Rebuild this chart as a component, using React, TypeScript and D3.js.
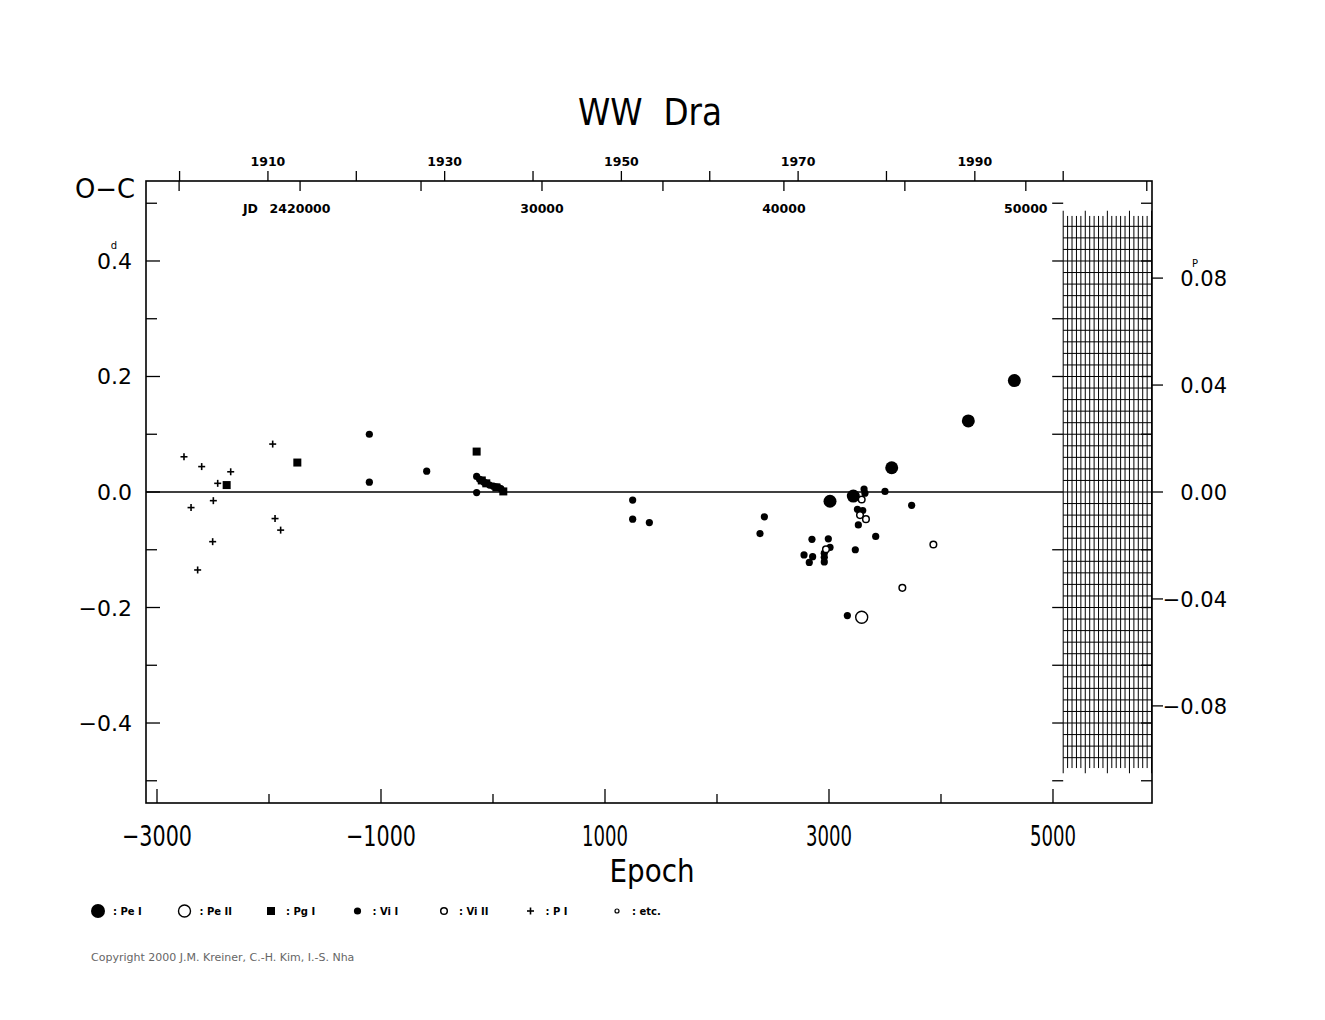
import React from 'react';
import * as d3 from 'd3';

// ---------- data ----------
const PERIOD = 4.6296; // days
const T0 = 2427975; // JD of epoch 0

// [epoch, O-C (days)]
const peI: [number, number][] = [
  [3009, -0.016], [3217, -0.007], [3560, 0.042], [4244, 0.123], [4655, 0.193],
];
const peII: [number, number][] = [[3292, -0.217]];
const pgI: [number, number][] = [
  [-2378, 0.012], [-1747, 0.051], [-146, 0.070], [-100, 0.020], [-60, 0.015], [30, 0.008], [92, 0.001],
];
const viI: [number, number][] = [
  [-1104, 0.100], [-1104, 0.017], [-592, 0.036],
  [-146, 0.027], [-146, -0.001], [-120, 0.022], [-101, 0.020], [-80, 0.017], [-56, 0.015],
  [-30, 0.012], [3, 0.010], [25, 0.009], [47, 0.008], [70, 0.006],
  [1247, -0.014], [1247, -0.047], [1396, -0.053], [2423, -0.043], [2384, -0.072],
  [3313, 0.005], [3321, -0.002], [3500, 0.001], [3738, -0.023], [3254, -0.030], [3301, -0.032],
  [3262, -0.057], [3417, -0.077], [2848, -0.082], [2994, -0.081], [3009, -0.096], [3235, -0.100],
  [2777, -0.109], [2854, -0.112], [2824, -0.122], [2958, -0.106], [2958, -0.113], [2958, -0.121],
  [3164, -0.214],
];
const viII: [number, number][] = [
  [3292, -0.013], [3277, -0.040], [3330, -0.047], [2973, -0.099], [3932, -0.091], [3655, -0.166],
];
const pI: [number, number][] = [
  [-2759, 0.061], [-2601, 0.044], [-2342, 0.035], [-2458, 0.015], [-2696, -0.027], [-2497, -0.015],
  [-2503, -0.086], [-2637, -0.135], [-1967, 0.083], [-1946, -0.046], [-1896, -0.066],
];

const dayMajorTicks = [-0.4, -0.2, 0, 0.2, 0.4];
const dayMinorTicks = [-0.5, -0.3, -0.1, 0.1, 0.3, 0.5];
const dayAllTicks = [-0.5, -0.4, -0.3, -0.2, -0.1, 0.1, 0.2, 0.3, 0.4, 0.5];
const periodTicks = [-0.08, -0.04, 0, 0.04, 0.08];
const epochMajor = [-3000, -1000, 1000, 3000, 5000];
const epochMinor = [-2000, 0, 2000, 4000];
const yearTicks = [1900, 1910, 1920, 1930, 1940, 1950, 1960, 1970, 1980, 1990, 2000];
const yearLabels = [1910, 1930, 1950, 1970, 1990];
const jdTicks = [15000, 20000, 25000, 30000, 35000, 40000, 45000, 50000, 55000];
const jdLabels = [20000, 30000, 40000, 50000];

const legendItems = [
  { kind: 'peI', label: ': Pe I' },
  { kind: 'peII', label: ': Pe II' },
  { kind: 'pgI', label: ': Pg I' },
  { kind: 'viI', label: ': Vi I' },
  { kind: 'viII', label: ': Vi II' },
  { kind: 'pI', label: ': P I' },
  { kind: 'etc', label: ': etc.' },
];

// ---------- helpers ----------
const yearToEpoch = (yr: number) => (2451544.5 + (yr - 2000) * 365.25 - T0) / PERIOD;
const jdToEpoch = (jd: number) => (2400000 + jd - T0) / PERIOD;

const FONT = "'DejaVu Sans', sans-serif";

function Marker({ kind, x, y, big }: { kind: string; x: number; y: number; big?: boolean }) {
  switch (kind) {
    case 'peI':
      return <circle cx={x} cy={y} r={big ? 7 : 6.5} fill="#000" />;
    case 'peII':
      return <circle cx={x} cy={y} r={6} fill="#fff" stroke="#000" strokeWidth={1.4} />;
    case 'pgI':
      return <rect x={x - 4} y={y - 4} width={8} height={8} fill="#000" />;
    case 'viI':
      return <circle cx={x} cy={y} r={3.6} fill="#000" />;
    case 'viII':
      return <circle cx={x} cy={y} r={3.3} fill="#fff" stroke="#000" strokeWidth={1.5} />;
    case 'pI':
      return (
        <g stroke="#000" strokeWidth={1.6}>
          <line x1={x - 3.5} x2={x + 3.5} y1={y} y2={y} />
          <line x1={x} x2={x} y1={y - 3.5} y2={y + 3.5} />
        </g>
      );
    default:
      return <circle cx={x} cy={y} r={2} fill="#fff" stroke="#000" strokeWidth={1.2} />;
  }
}

export default function App() {
  const left = 146, right = 1152, top = 181, bottom = 803;
  const x = d3.scaleLinear().domain([-3098.2, 5884]).range([left, right]);
  const y = d3.scaleLinear().domain([-0.5385, 0.5385]).range([bottom, top]);
  const yP = (p: number) => y(p * PERIOD);

  const hatchX0 = x(yearToEpoch(2000));
  const hatchCols = d3.range(0, 20.01, 1).map((i) => ({ x: x(yearToEpoch(2000 + i * 0.5)), tall: i % 5 === 0 }))
    .filter((c) => c.x <= right + 0.5);
  const hatchRows = d3.range(-23, 24).map((k) => k * 0.02);

  const series: { kind: string; pts: [number, number][] }[] = [
    { kind: 'pI', pts: pI },
    { kind: 'pgI', pts: pgI },
    { kind: 'viI', pts: viI },
    { kind: 'peI', pts: peI },
    { kind: 'viII', pts: viII },
    { kind: 'peII', pts: peII },
  ];

  const fmtDay = (v: number) => (v < 0 ? '\u2212' : '') + Math.abs(v).toFixed(1);
  const fmtP = (v: number) => (v < 0 ? '\u2212' : '') + Math.abs(v).toFixed(2);
  const fmtE = (v: number) => (v < 0 ? '\u2212' : '') + Math.abs(v).toString();

  return (
    <svg width={1325} height={1020} style={{ position: 'absolute', left: 0, top: 0, background: '#fff' }} fontFamily={FONT}>
      <rect x={0} y={0} width={1325} height={1020} fill="#fff" />
      {/* title */}
      <text x={650} y={125} fontSize={37} textAnchor="middle" textLength={144} lengthAdjust="spacingAndGlyphs" fill="#000">
        WW{'\u00a0\u00a0'}Dra
      </text>
      <text x={75} y={198} fontSize={27} textLength={60} lengthAdjust="spacingAndGlyphs" fill="#000">O{'\u2212'}C</text>

      {/* hatch region */}
      <g stroke="#000" strokeWidth={1}>
        {hatchCols.map((c, i) => (
          <line key={'hc' + i} x1={c.x} x2={c.x} y1={y(c.tall ? 0.487 : 0.478)} y2={y(c.tall ? -0.487 : -0.478)} />
        ))}
        {hatchRows.map((r, i) => (
          <line key={'hr' + i} x1={hatchX0} x2={right} y1={y(r)} y2={y(r)} />
        ))}
      </g>

      {/* zero line */}
      <line x1={left} x2={hatchX0} y1={y(0)} y2={y(0)} stroke="#000" strokeWidth={1.3} />

      {/* frame */}
      <rect x={left} y={top} width={right - left} height={bottom - top} fill="none" stroke="#000" strokeWidth={1.6} />

      {/* ticks */}
      <g stroke="#000" strokeWidth={1.3}>
        {dayMajorTicks.map((t) => (
          <line key={'lm' + t} x1={left} x2={left + 14} y1={y(t)} y2={y(t)} />
        ))}
        {dayMinorTicks.map((t) => (
          <line key={'ln' + t} x1={left} x2={left + 11} y1={y(t)} y2={y(t)} />
        ))}
        {dayAllTicks.map((t) => (
          <line key={'rh' + t} x1={hatchX0 - 11} x2={hatchX0} y1={y(t)} y2={y(t)} />
        ))}
        {dayAllTicks.map((t) => (
          <line key={'rf' + t} x1={right - 11} x2={right} y1={y(t)} y2={y(t)} />
        ))}
        {periodTicks.map((t) => (
          <line key={'pt' + t} x1={right} x2={right + 11} y1={yP(t)} y2={yP(t)} />
        ))}
        {epochMajor.map((t) => (
          <line key={'em' + t} x1={x(t)} x2={x(t)} y1={bottom} y2={bottom - 14} />
        ))}
        {epochMinor.map((t) => (
          <line key={'en' + t} x1={x(t)} x2={x(t)} y1={bottom} y2={bottom - 9} />
        ))}
        {yearTicks.map((t) => (
          <line key={'yt' + t} x1={x(yearToEpoch(t))} x2={x(yearToEpoch(t))} y1={top} y2={top - 10} />
        ))}
        {jdTicks.map((t) => (
          <line key={'jt' + t} x1={x(jdToEpoch(t))} x2={x(jdToEpoch(t))} y1={top} y2={top + 10} />
        ))}
      </g>

      {/* left labels */}
      {dayMajorTicks.map((t) => (
        <text key={'ll' + t} x={132} y={y(t) + 8} fontSize={22} textAnchor="end" fill="#000">{fmtDay(t)}</text>
      ))}
      <text x={114} y={y(0.4) - 12} fontSize={10} textAnchor="middle" fill="#000">d</text>

      {/* right labels */}
      {periodTicks.map((t) => (
        <text key={'rl' + t} x={1227} y={yP(t) + 8} fontSize={21} textAnchor="end" fill="#000">{fmtP(t)}</text>
      ))}
      <text x={1195} y={yP(0.08) - 11} fontSize={10} textAnchor="middle" fill="#000">P</text>

      {/* bottom labels */}
      {epochMajor.map((t) => {
        const s = fmtE(t);
        return (
          <text key={'bl' + t} x={x(t)} y={846} fontSize={29} textAnchor="middle" textLength={s.length === 5 ? 70 : 46}
            lengthAdjust="spacingAndGlyphs" fill="#000">{s}</text>
        );
      })}
      <text x={652} y={882} fontSize={32} textAnchor="middle" textLength={85} lengthAdjust="spacingAndGlyphs" fill="#000">Epoch</text>

      {/* top labels */}
      {yearLabels.map((t) => (
        <text key={'yl' + t} x={x(yearToEpoch(t))} y={166} fontSize={12.5} fontWeight="bold" textAnchor="middle" fill="#000">{t}</text>
      ))}
      {jdLabels.map((t, i) => (
        <text key={'jl' + t} x={x(jdToEpoch(t))} y={213} fontSize={12.5} fontWeight="bold" textAnchor="middle" fill="#000">
          {i === 0 ? '24' + t : t}
        </text>
      ))}
      <text x={258} y={213} fontSize={12.5} fontWeight="bold" textAnchor="end" fill="#000">JD</text>

      {/* data */}
      {series.map((s) => (
        <g key={s.kind}>
          {s.pts.map((p, i) => (
            <Marker key={i} kind={s.kind} x={x(p[0])} y={y(p[1])} />
          ))}
        </g>
      ))}

      {/* legend */}
      {legendItems.map((it, i) => {
        const mx = 98 + i * 86.5;
        return (
          <g key={it.kind}>
            <Marker kind={it.kind} x={mx} y={911} big />
            <text x={mx + 15} y={915} fontSize={10} fontWeight="bold" fill="#000">{it.label}</text>
          </g>
        );
      })}

      <text x={91} y={961} fontSize={11} fill="#666">Copyright 2000 J.M. Kreiner, C.-H. Kim, I.-S. Nha</text>
    </svg>
  );
}
